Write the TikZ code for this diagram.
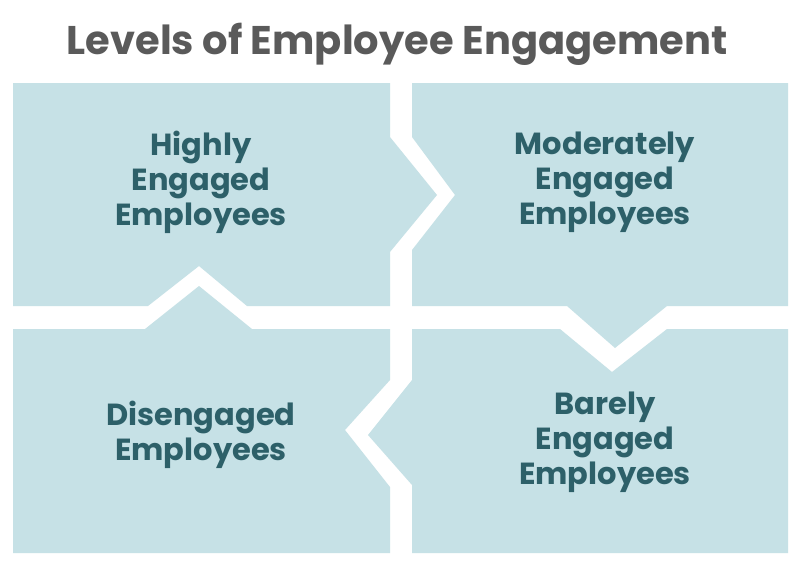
\documentclass[tikz,border=0pt]{standalone}
\usepackage{fontspec}
\setmainfont{Poppins}
\definecolor{panelfill}{HTML}{C6E1E6}
\definecolor{titlegray}{HTML}{5A5A5A}
\definecolor{textteal}{HTML}{2D6069}
\begin{document}
\begin{tikzpicture}[x=1pt,y=-1pt,
  panel/.style={fill=panelfill,draw=none},
  label/.style={text=textteal,font=\bfseries\fontsize{30.5}{35}\selectfont,align=center,inner sep=0pt},
  heading/.style={text=titlegray,font=\bfseries\fontsize{40}{46}\selectfont,inner sep=0pt}]
\useasboundingbox (0,0) rectangle (800,568);
\fill[white] (0,0) rectangle (800,568);
% panels
\fill[panel] (13,83) -- (390,83) -- (390,137) -- (437,195) -- (390,252) -- (390,306)
  -- (247,306) -- (199,266) -- (148,306) -- (13,306) -- cycle;
\fill[panel] (412,83) -- (788,83) -- (788,306) -- (667,306) -- (615,348) -- (567,306)
  -- (412,306) -- (412,250) -- (455,195) -- (412,137) -- cycle;
\fill[panel] (13,329) -- (145,329) -- (199,286) -- (252,329) -- (390,329) -- (390,380)
  -- (345,430) -- (390,487) -- (390,553) -- (13,553) -- cycle;
\fill[panel] (412,329) -- (560,329) -- (612,372) -- (667,329) -- (788,329) -- (788,553)
  -- (412,553) -- (412,485) -- (368,435) -- (412,380) -- cycle;
% texts
\node[heading] (title) at (397,44) {Levels of Employee Engagement};
\node[label] (high) at (201,182) {Highly\\Engaged\\Employees};
\node[label] (mod) at (605,182) {Moderately\\Engaged\\Employees};
\node[label] (dis) at (201,435) {Disengaged\\Employees};
\node[label] (bare) at (605,442) {Barely\\Engaged\\Employees};
\end{tikzpicture}
\end{document}
